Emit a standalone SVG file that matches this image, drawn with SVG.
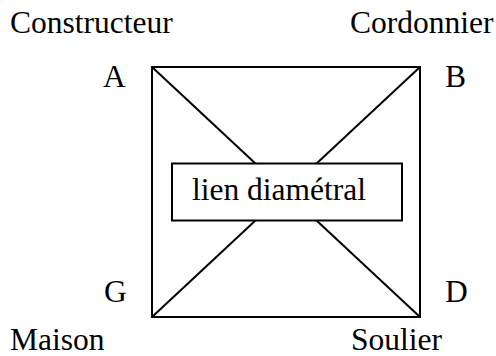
<svg xmlns="http://www.w3.org/2000/svg" width="496" height="356" viewBox="0 0 496 356">
<style>
.t{font-family:"Liberation Serif","Times New Roman",serif;font-size:31.5px;fill:#000}
.ln{stroke:#000;stroke-width:2;fill:none}
</style>
<rect width="496" height="356" fill="#fff"/>
<g id="connectors">
<line class="ln" x1="152" y1="67" x2="420" y2="317"/>
<line class="ln" x1="152" y1="317" x2="420" y2="67"/>
</g>
<g id="square"><rect class="ln" x="152" y="67" width="268" height="250"/></g>
<g id="lien"><rect x="172" y="163.5" width="230" height="57" fill="#fff" stroke="#000" stroke-width="2"/>
<text class="t" x="192" y="200">lien diamétral</text></g>
<g id="A"><text class="t" x="103" y="87">A</text><text class="t" x="10" y="33">Constructeur</text></g>
<g id="B"><text class="t" x="445" y="87">B</text><text class="t" x="350" y="33">Cordonnier</text></g>
<g id="G"><text class="t" x="104" y="302">G</text><text class="t" x="10" y="350">Maison</text></g>
<g id="D"><text class="t" x="445" y="302">D</text><text class="t" x="351" y="350">Soulier</text></g>
</svg>
